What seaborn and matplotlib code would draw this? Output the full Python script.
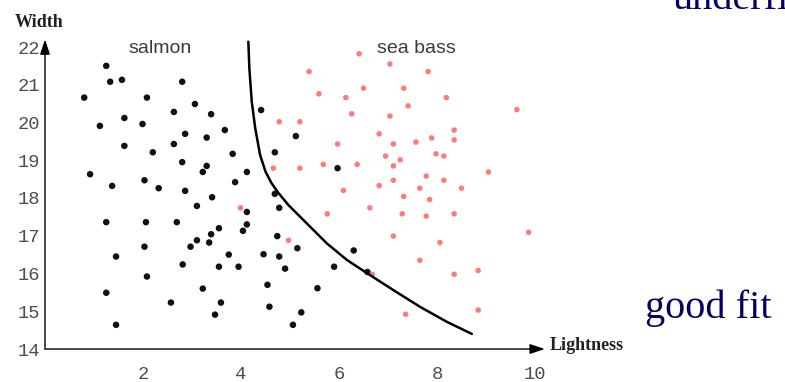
import matplotlib
matplotlib.use("Agg")
import matplotlib.pyplot as plt
from matplotlib.ticker import MultipleLocator
import seaborn as sns

# salmon (noirs)
salmon_x = [1.25, 1.33, 1.57, 2.80, 0.80, 2.08, 3.06, 2.63, 3.39, 1.62,
            1.99, 1.12, 3.67, 2.86, 3.30, 1.62, 2.63, 2.20, 3.83, 2.80,
            3.30, 3.22, 4.12, 0.92, 2.03, 3.88, 1.37, 2.32, 2.86, 3.41,
            3.10, 1.25, 2.06, 2.69, 4.12, 4.12, 4.04, 3.55, 3.39, 3.10,
            3.35, 2.97, 2.03, 1.45, 3.75, 2.81, 3.55, 3.95, 2.08, 3.22,
            1.25, 2.57, 3.59, 3.47, 1.45, 4.41, 5.12, 4.69, 5.97, 4.69,
            4.78, 4.74, 5.15, 4.46, 4.78, 6.30, 4.90, 5.90, 6.58, 4.54,
            5.56, 4.58, 5.23, 5.06]
salmon_y = [21.50, 21.08, 21.13, 21.08, 20.66, 20.66, 20.49, 20.28, 20.22, 20.12,
            19.96, 19.91, 19.80, 19.70, 19.60, 19.38, 19.43, 19.21, 19.17, 18.95,
            18.85, 18.69, 18.69, 18.63, 18.47, 18.42, 18.32, 18.26, 18.19, 18.02,
            17.79, 17.36, 17.36, 17.36, 17.63, 17.30, 17.13, 17.20, 17.04, 16.88,
            16.82, 16.71, 16.71, 16.45, 16.50, 16.24, 16.18, 16.18, 15.92, 15.60,
            15.49, 15.23, 15.23, 14.91, 14.64, 20.33, 19.64, 19.21, 18.79, 18.11,
            17.74, 16.99, 16.67, 16.51, 16.45, 16.61, 16.13, 16.18, 16.04, 15.70,
            15.61, 15.12, 14.97, 14.64]

# sea bass (rouges)
seabass_x = [6.41, 7.04, 5.39, 7.82, 6.50, 7.32, 5.59, 6.14, 8.19, 7.41,
             9.63, 6.26, 7.04, 4.78, 5.20, 8.35, 6.82, 7.89, 8.35, 5.97,
             7.11, 7.57, 7.98, 8.14, 6.95, 7.25, 7.11, 5.68, 6.37, 4.66,
             5.20, 9.05, 7.78, 7.11, 8.14, 6.82, 7.65, 8.50, 6.09, 7.32,
             7.85, 5.76, 6.63, 7.29, 7.78, 8.35, 9.87, 7.11, 8.06, 4.97,
             7.65, 8.84, 8.35, 6.68, 7.36, 8.84, 3.99]
seabass_y = [21.82, 21.55, 21.35, 21.35, 20.91, 20.91, 20.76, 20.66, 20.66, 20.44,
             20.34, 20.23, 20.17, 20.02, 20.02, 19.80, 19.70, 19.59, 19.54, 19.43,
             19.43, 19.48, 19.17, 19.11, 19.11, 19.01, 18.85, 18.89, 18.89, 18.79,
             18.79, 18.69, 18.58, 18.47, 18.47, 18.33, 18.26, 18.26, 18.20, 18.04,
             17.96, 17.58, 17.74, 17.58, 17.52, 17.58, 17.09, 16.99, 16.82, 16.88,
             16.35, 16.08, 15.98, 15.98, 14.92, 15.03, 17.74]

# frontiere de decision
boundary_x = [4.15, 4.17, 4.22, 4.29, 4.39, 4.50, 4.62, 4.76, 4.97, 5.07, 5.41,
              5.75, 6.16, 6.57, 7.11, 7.65, 8.20, 8.71]
boundary_y = [22.14, 21.44, 20.55, 19.85, 19.14, 18.70, 18.40, 18.14, 17.81, 17.68, 17.24,
              16.80, 16.36, 16.01, 15.56, 15.12, 14.72, 14.40]

x_ticks = [2, 4, 6, 8, 10]
y_ticks = [14, 15, 16, 17, 18, 19, 20, 21, 22]

sns.set_style("white")

fig = plt.figure(figsize=(7.85, 3.82), dpi=100)
ax = fig.add_axes([45 / 785, 33 / 382, 10.25 * 49 / 785, 8.25 * 37.75 / 382])

sns.scatterplot(x=salmon_x, y=salmon_y, color="#111111", s=22, edgecolor="none", ax=ax, zorder=3)
sns.scatterplot(x=seabass_x, y=seabass_y, color="#ff7b7b", s=16, edgecolor="none", ax=ax, zorder=3)
sns.lineplot(x=boundary_x, y=boundary_y, sort=False, estimator=None, color="black", lw=1.8, ax=ax, zorder=4)

ax.set_xlim(0, 10.25)
ax.set_ylim(14, 22.25)
for s in ax.spines.values():
    s.set_visible(False)

# axes avec fleches
arrow = dict(arrowstyle="-|>,head_length=0.9,head_width=0.3", color="black", lw=1.0,
             mutation_scale=10, shrinkA=0, shrinkB=0)
ax.annotate("", xy=(10.2, 14), xytext=(0, 14), arrowprops=arrow, annotation_clip=False)
ax.annotate("", xy=(0, 22.2), xytext=(0, 14), arrowprops=arrow, annotation_clip=False)

ax.set_xticks(x_ticks)
ax.set_yticks(y_ticks)
ax.xaxis.set_minor_locator(MultipleLocator(0.4))
ax.yaxis.set_minor_locator(MultipleLocator(0.2))
ax.tick_params(axis="x", which="major", direction="in", length=3.5, width=0.8, pad=12)
ax.tick_params(axis="x", which="minor", direction="in", length=2, width=0.7)
ax.tick_params(axis="y", which="major", direction="in", length=4.5, width=0.8, pad=3.5)
ax.tick_params(axis="y", which="minor", direction="in", length=3, width=0.7)
ax.tick_params(which="both", color="black", labelcolor="#4d4d4d", labelsize=13.5)
for lab in ax.get_xticklabels() + ax.get_yticklabels():
    lab.set_family("Liberation Mono")

ax.text(2.35, 21.85, "salmon", ha="center", va="baseline", fontsize=14,
        color="#3a3a3a", family="Liberation Sans")
ax.text(7.57, 21.85, "sea bass", ha="center", va="baseline", fontsize=14,
        color="#3a3a3a", family="Liberation Sans")

fig.text(15 / 785, (382 - 27) / 382, "Width", fontsize=13, fontweight="bold",
         family="Liberation Serif", color="#222222", va="baseline")
fig.text(550 / 785, (382 - 350) / 382, "Lightness", fontsize=13, fontweight="bold",
         family="Liberation Serif", color="#222222", va="baseline")
fig.text(645 / 785, (382 - 318) / 382, "good fit", fontsize=29,
         family="Liberation Serif", color="#000066", va="baseline")
# texte coupé en haut à droite, comme sur l'original
fig.text(672 / 785, (382 - 9.5) / 382, "underfitting", fontsize=29,
         family="Liberation Serif", color="#000066", va="baseline")

fig.savefig("out.png", dpi=100)
